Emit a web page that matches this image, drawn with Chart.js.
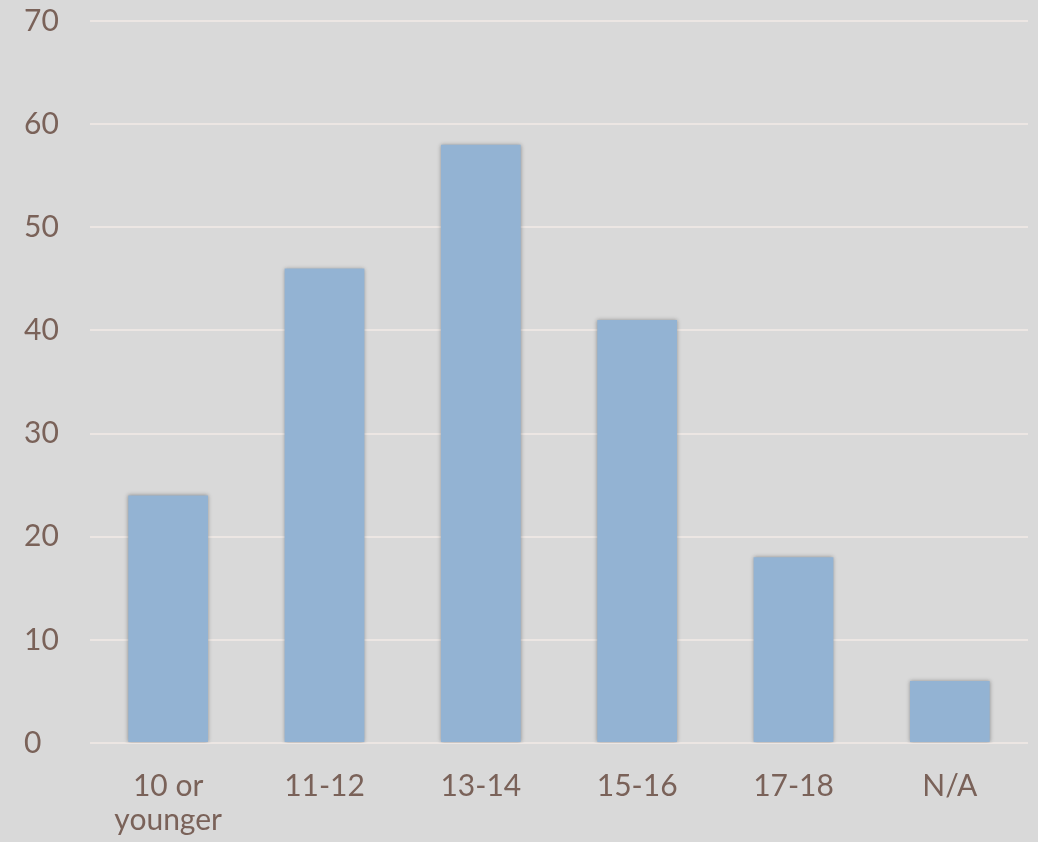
<!DOCTYPE html>
<html>
<head>
<meta charset="utf-8">
<script src="https://cdn.jsdelivr.net/npm/chart.js@4.4.1/dist/chart.umd.min.js"></script>
<style>
  html, body { margin: 0; padding: 0; background: #d9d9d9; }
  #wrap { width: 1038px; height: 842px; }
</style>
</head>
<body>
<div id="wrap"><canvas id="grafico"></canvas></div>
<script>
const categorias = [['10 or', 'younger'], '11-12', '13-14', '15-16', '17-18', 'N/A'];
const valores    = [24, 46, 58, 41, 18, 6];
const eixoY      = { min: 0, max: 70, passo: 10 };

const corTexto = '#7a6259';

// sombra leve nas barras
const sombraBarras = {
    id: 'sombraBarras',
    beforeDatasetsDraw(chart) {
        chart.ctx.save();
        chart.ctx.shadowColor = 'rgba(0,0,0,0.35)';
        chart.ctx.shadowBlur = 4;
    },
    afterDatasetsDraw(chart) {
        chart.ctx.restore();
    }
};

new Chart(document.getElementById('grafico'), {
    type: 'bar',
    data: {
        labels: categorias,
        datasets: [{
            data: valores,
            backgroundColor: '#93b3d3',
            borderWidth: 0,
            barPercentage: 0.51,
            categoryPercentage: 1
        }]
    },
    options: {
        responsive: true,
        maintainAspectRatio: false,
        animation: false,
        layout: { padding: { left: 24, right: 10, top: 7, bottom: 0 } },
        plugins: {
            legend: { display: false },
            tooltip: { enabled: false }
        },
        scales: {
            x: {
                grid: { display: false },
                border: { display: false },
                ticks: {
                    color: corTexto,
                    font: { family: 'Lato', size: 30, lineHeight: 1.15 },
                    padding: 18,
                    maxRotation: 0,
                    autoSkip: false
                },
                afterFit(scale) { scale.height = 99; }
            },
            y: {
                min: eixoY.min,
                max: eixoY.max,
                grid: { color: '#ece6e3', lineWidth: 2, drawTicks: false },
                border: { display: false },
                ticks: {
                    stepSize: eixoY.passo,
                    color: corTexto,
                    font: { family: 'Lato', size: 30 },
                    crossAlign: 'far'
                },
                afterFit(scale) { scale.width = 66; }
            }
        }
    },
    plugins: [sombraBarras]
});
</script>
</body>
</html>
